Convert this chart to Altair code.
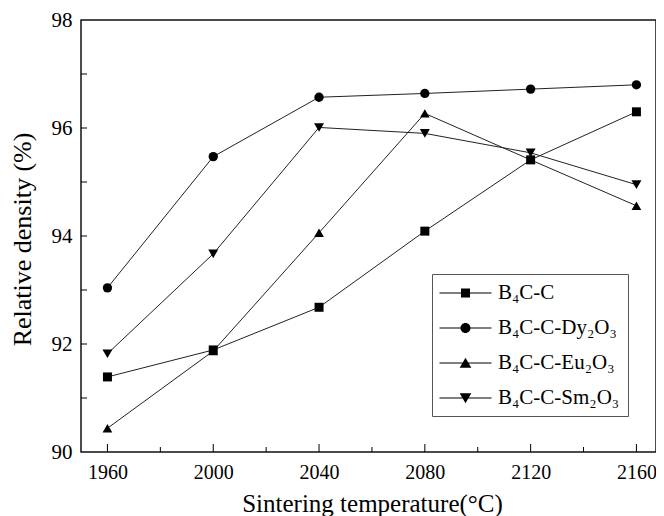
import altair as alt
import pandas as pd

# ---- data ----
temps = [1960, 2000, 2040, 2080, 2120, 2160]
series_names = ["B₄C-C", "B₄C-C-Dy₂O₃", "B₄C-C-Eu₂O₃", "B₄C-C-Sm₂O₃"]
b4c_c = [91.39, 91.89, 92.68, 94.09, 95.41, 96.30]
b4c_c_dy = [93.04, 95.47, 96.57, 96.64, 96.72, 96.80]
b4c_c_eu = [90.44, 91.87, 94.06, 96.27, 95.41, 94.56]
b4c_c_sm = [91.82, 93.67, 96.01, 95.90, 95.54, 94.95]

x_label_values = [1960, 2000, 2040, 2080, 2120, 2160]
x_minor_ticks = [1980, 2020, 2060, 2100, 2140]
y_label_values = [90, 92, 94, 96, 98]
y_ticks = [91, 92, 93, 94, 95, 96, 97]

marker_shapes = ["square", "circle", "triangle-up", "triangle-down"]
marker_sizes = [81, 100, 137, 137]
# legend symbols: a thin filled bar (line stub) with the marker in the middle,
# drawn shifted right so the stub starts at the entry's left edge
STUB = "M-1.046,-0.0455L3.682,-0.0455L3.682,0.0455L-1.046,0.0455Z"
legend_paths = [
    STUB + "M0.908,-0.41L1.728,-0.41L1.728,0.41L0.908,0.41Z",
    STUB + "M1.7725,0A0.4545,0.4545,0,1,1,0.8635,0A0.4545,0.4545,0,1,1,1.7725,0Z",
    STUB + "M1.318,-0.47L1.848,0.43L0.788,0.43Z",
    STUB + "M1.318,0.47L0.788,-0.43L1.848,-0.43Z",
]

FONT = "Liberation Serif"

values = [b4c_c, b4c_c_dy, b4c_c_eu, b4c_c_sm]
rows = []
for name, vals in zip(series_names, values):
    for t, v in zip(temps, vals):
        rows.append({"temp": t, "density": v, "series": name})
df = pd.DataFrame(rows)

xscale = alt.Scale(domain=[1950, 2167.4], nice=False, zero=False)
yscale = alt.Scale(domain=[90, 98], nice=False, zero=False)

x_axis = alt.Axis(
    title="Sintering temperature(°C)", values=x_label_values, format="d",
    grid=False, domain=False, ticks=False, labelFont=FONT, labelFontSize=20,
    labelColor="black", labelPadding=26, labelBaseline="alphabetic",
    titleFont=FONT, titleFontSize=25, titleFontWeight="normal", titleColor="black",
    titleBaseline="alphabetic", titleY=59, titleX=291,
)
y_axis = alt.Axis(
    title="Relative density (%)", values=y_label_values, format="d",
    grid=False, domain=False, ticks=False, labelFont=FONT, labelFontSize=21,
    labelColor="black", labelPadding=9,
    titleFont=FONT, titleFontSize=26, titleFontWeight="normal", titleColor="black",
    titleBaseline="alphabetic", titleX=-51, titleY=219,
)

base = alt.Chart(df)

lines = base.mark_line(color="#222222", strokeWidth=1).encode(
    x=alt.X("temp:Q", scale=xscale, axis=x_axis),
    y=alt.Y("density:Q", scale=yscale, axis=y_axis),
    detail="series:N",
)

points = base.mark_point(filled=True, color="black", opacity=1).encode(
    x=alt.X("temp:Q", scale=xscale, axis=x_axis),
    y=alt.Y("density:Q", scale=yscale, axis=y_axis),
    shape=alt.Shape("series:N", scale=alt.Scale(domain=series_names, range=marker_shapes), legend=None),
    size=alt.Size("series:N", scale=alt.Scale(domain=series_names, range=marker_sizes), legend=None),
)

legend_layer = base.transform_filter("datum.density < 0").mark_point(
    filled=True, color="black"
).encode(
    x=alt.X("temp:Q", scale=xscale, axis=x_axis),
    y=alt.Y("density:Q", scale=yscale, axis=y_axis),
    shape=alt.Shape(
        "series:N",
        scale=alt.Scale(domain=series_names, range=legend_paths),
        legend=alt.Legend(
            title=None, orient="none", legendX=351, legendY=254, padding=8,
            strokeColor="#555555", fillColor="white", symbolSize=484,
            symbolOffset=0, labelOffset=36, rowPadding=14,
            labelFont=FONT, labelFontSize=21, labelColor="black", labelLimit=300,
            symbolFillColor="black", symbolStrokeWidth=0,
            symbolOpacity=1,
        ),
    ),
)

tick_major_x = pd.DataFrame({"v": x_label_values})
tick_minor_x = pd.DataFrame({"v": x_minor_ticks})
tick_y = pd.DataFrame({"v": y_ticks})

xt_major = alt.Chart(tick_major_x).mark_rule(color="black", strokeWidth=1).encode(
    x=alt.X("v:Q", scale=xscale, axis=x_axis), y=alt.value(432), y2=alt.value(424)
)
xt_minor = alt.Chart(tick_minor_x).mark_rule(color="black", strokeWidth=1).encode(
    x=alt.X("v:Q", scale=xscale, axis=x_axis), y=alt.value(432), y2=alt.value(427)
)
yt = alt.Chart(tick_y).mark_rule(color="black", strokeWidth=1).encode(
    y=alt.Y("v:Q", scale=yscale, axis=y_axis), x=alt.value(0), x2=alt.value(6)
)

chart = (
    alt.layer(lines, points, legend_layer, xt_major, xt_minor, yt)
    .resolve_scale(shape="independent", size="independent")
    .properties(
        width=575, height=432,
        autosize=alt.AutoSizeParams(type="none"),
        padding={"left": 73, "top": 12, "right": 0, "bottom": 64},
        background="white",
    )
    .configure_view(stroke="#111111", strokeWidth=1.5)
)

chart.save("out.html", embed_options={"renderer": "svg", "actions": False})
